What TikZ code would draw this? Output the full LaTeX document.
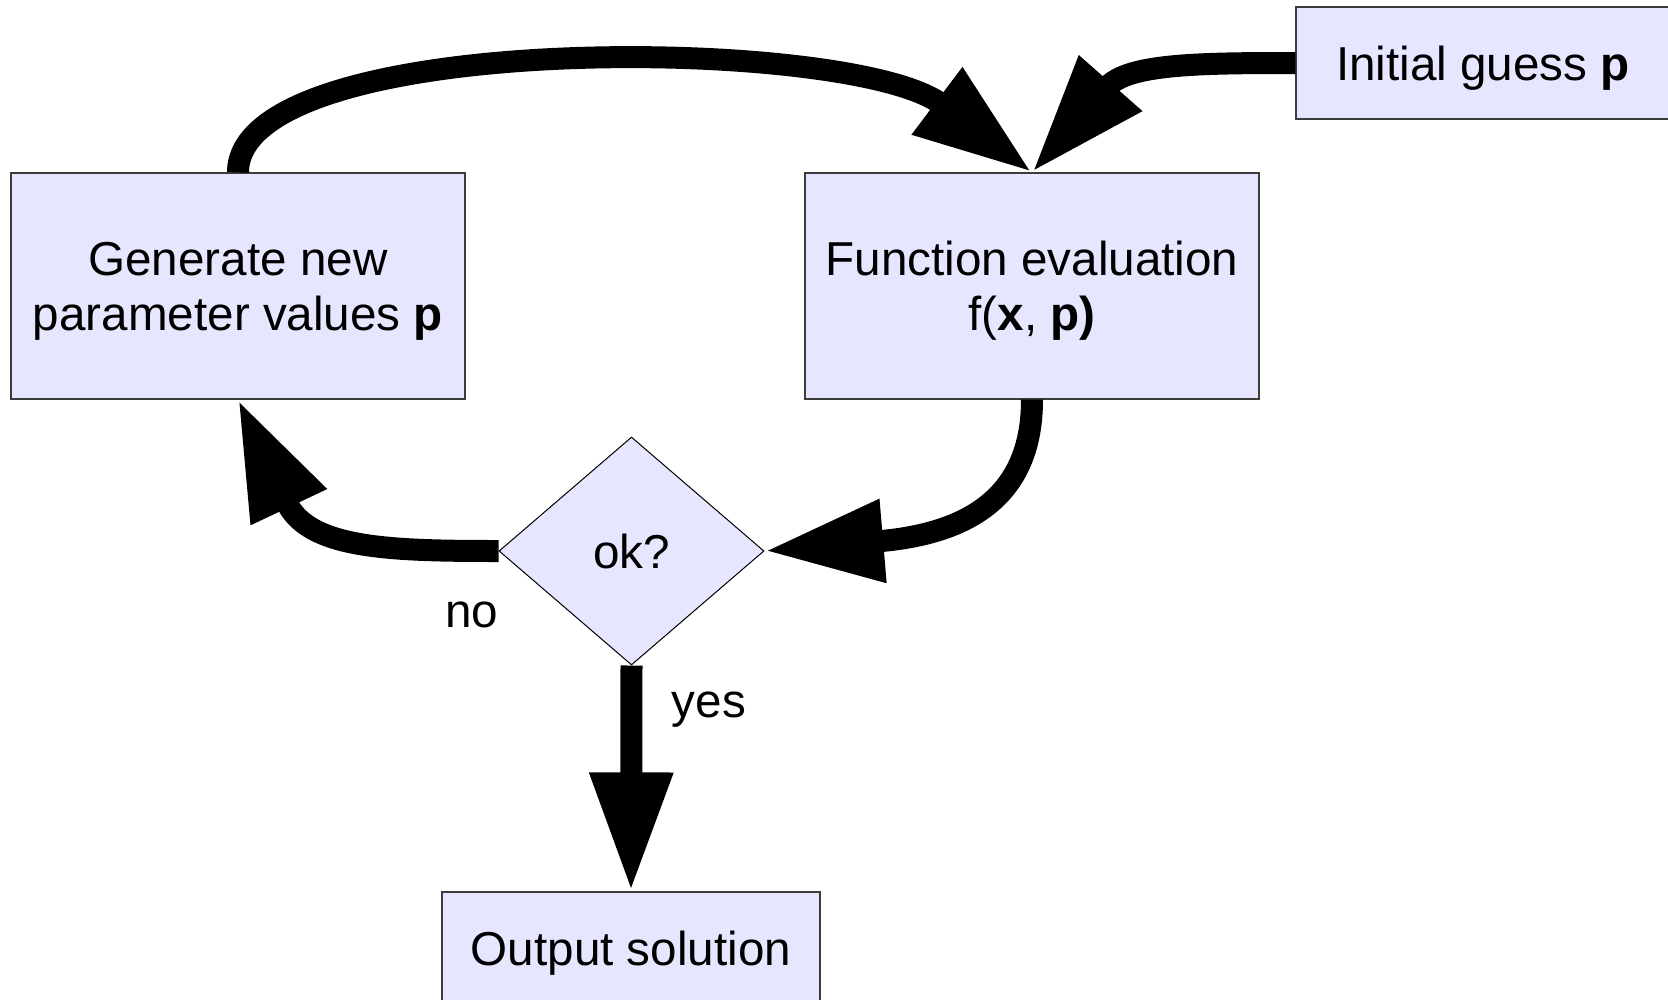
\documentclass[tikz,border=0pt]{standalone}
\usepackage{fontspec}
\setmainfont{Liberation Sans}
\usetikzlibrary{arrows.meta,shapes.geometric}
\definecolor{boxfill}{RGB}{230,230,255}
\definecolor{boxline}{RGB}{60,60,60}
\tikzset{
  procbox/.style={draw=boxline, line width=1.2pt, fill=boxfill, rectangle, inner sep=0pt, align=center,
    text depth=0pt, font=\fontsize{47.6pt}{55pt}\selectfont},
  decbox/.style={draw=black, line width=1pt, fill=boxfill, diamond, inner sep=0pt,
    minimum width=265pt, minimum height=228pt, text depth=0pt, font=\fontsize{47.6pt}{55pt}\selectfont},
  lbl/.style={inner sep=0pt, anchor=base, font=\fontsize{47.6pt}{55pt}\selectfont},
  flow/.style={line width=22pt, -{Triangle[length=119pt,width=78pt]}}
}
\begin{document}
\begin{tikzpicture}[x=1pt,y=-1pt]
\useasboundingbox (0,0) rectangle (1668,999);
\clip (0,0) rectangle (1668,999);
\node[procbox, minimum width=454pt, minimum height=226pt] (gen) at (238,286) {Generate new\\parameter values \textbf{p}};
\node[procbox, minimum width=454pt, minimum height=226pt] (func) at (1032,286) {Function evaluation\\f(\textbf{x}, \textbf{p)}};
\node[procbox, minimum width=374pt, minimum height=112pt] (init) at (1483,63) {Initial guess \textbf{p}};
\node[decbox] (dia) at (631.5,551) {ok?};
\node[procbox, minimum width=378pt, minimum height=112pt] (out) at (631,948) {Output solution};
\node[lbl] (no) at (472,627) {no};
\node[lbl] (yes) at (709,717) {yes};
\draw[flow] (gen.north) .. controls +(0,-143) and +(-182,-137) .. (func.north);
\draw[flow] (init.west) .. controls +(-96,0) and +(95.7,-108.7) .. (func.north);
\draw[flow] (func.south) .. controls +(0,100) and +(200,-17) .. (dia.east);
\draw[flow] (dia.west) .. controls +(-110,0) and +(70.5,149) .. (gen.south);
\draw[flow] (dia.south) -- (out.north);
\end{tikzpicture}
\end{document}
